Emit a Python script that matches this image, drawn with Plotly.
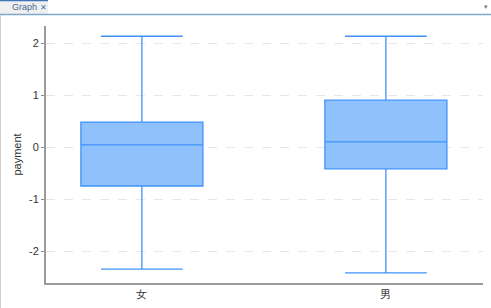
import plotly.graph_objects as go

categories = ["女", "男"]
upper = [2.13, 2.13]
q3 = [0.48, 0.90]
median = [0.04, 0.10]
q1 = [-0.75, -0.42]
lower = [-2.35, -2.42]
y_ticks = [-2, -1, 0, 1, 2]
y_labels = ["-2", "-1", "0", "1", "2"]

fig = go.Figure()
fig.add_trace(go.Box(
    x=categories, q1=q1, median=median, q3=q3,
    lowerfence=lower, upperfence=upper,
    fillcolor="rgba(143,193,252,1)",
    line=dict(color="rgb(64,146,250)", width=1.3),
    width=0.5, whiskerwidth=0.67, boxpoints=False, hoverinfo="skip",
))

fig.update_layout(
    width=491, height=308,
    margin=dict(l=46, r=8, t=26, b=25),
    paper_bgcolor="white", plot_bgcolor="white",
    showlegend=False,
    font=dict(family="Liberation Sans, Arial, sans-serif", size=11, color="#333"),
    xaxis=dict(range=[-0.393, 1.398], showline=True, linecolor="#9a9a9a", linewidth=2,
               showgrid=False, zeroline=False, ticks="", tickfont=dict(size=11, color="#333")),
    yaxis=dict(range=[-2.615, 2.327], tickvals=y_ticks, ticktext=y_labels, showline=True,
               linecolor="#9a9a9a", linewidth=2, ticks="outside", ticklen=3, tickcolor="#888",
               showgrid=True, gridcolor="#e6e6e6", griddash="dash", gridwidth=1,
               zeroline=False, title=dict(text="payment", standoff=5, font=dict(size=11, color="#333"))),
)

# tab header
fig.add_shape(type="rect", xref="paper", yref="paper", x0=-46/437, x1=2/437,
              y0=1 + 12/257, y1=1 + 26/257, line=dict(width=0),
              fillcolor="#f0f0f0", layer="below")
fig.add_shape(type="line", xref="paper", yref="paper", x0=-46/437, x1=1 + 8/437,
              y0=1 + 11.5/257, y1=1 + 11.5/257, line=dict(color="#7fa7d0", width=1.5))
fig.add_shape(type="line", xref="paper", yref="paper", x0=-46/437, x1=2/437,
              y0=1 + 25.5/257, y1=1 + 25.5/257, line=dict(color="#3b76b8", width=1.5))
fig.add_shape(type="line", xref="paper", yref="paper", x0=-45.5/437, x1=-45.5/437,
              y0=-25/257, y1=1 + 11/257, line=dict(color="#d0d0d0", width=1))
fig.add_annotation(xref="paper", yref="paper", x=-36/437, y=1 + 19/257, text="Graph",
                   showarrow=False, xanchor="left", yanchor="middle",
                   font=dict(size=9, color="#4a6a90"))
fig.add_annotation(xref="paper", yref="paper", x=-3/437, y=1 + 19/257, text="✕",
                   showarrow=False, xanchor="center", yanchor="middle",
                   font=dict(size=8, color="#3b76b8"))
fig.add_annotation(xref="paper", yref="paper", x=1 + 3/437, y=1 + 20/257, text="▾",
                   showarrow=False, xanchor="center", yanchor="middle",
                   font=dict(size=7, color="#777"))

fig.write_html("out.html")
